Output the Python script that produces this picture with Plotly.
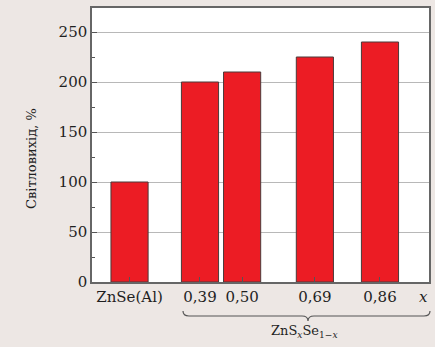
import plotly.graph_objects as go

# Data
ref_label = "ZnSe(Al)"
ref_value = 100
comp_x = [0.39, 0.50, 0.69, 0.86]
comp_labels = ["0,39", "0,50", "0,69", "0,86"]
comp_values = [200, 210, 225, 240]
y_ticks = [0, 50, 100, 150, 200, 250]

REF_POS = 0.206  # placement of the reference sample on the x axis

xs = [REF_POS] + comp_x
ys = [ref_value] + comp_values
tick_text = [ref_label] + comp_labels

serif = "DejaVu Serif"
txt_col = "#1f1f1f"
bg = "#ede7e4"

fig = go.Figure()
fig.add_trace(go.Bar(
    x=xs, y=ys, width=0.097,
    marker=dict(color="#ec1c24", line=dict(color="#4a3a3a", width=1)),
))

fig.update_layout(
    width=435, height=347,
    margin=dict(l=92, r=6, t=8, b=65, autoexpand=False),
    paper_bgcolor=bg,
    plot_bgcolor="#ffffff",
    showlegend=False,
    font=dict(family=serif, size=15, color=txt_col),
    xaxis=dict(
        range=[0.108, 0.988],
        tickvals=xs, ticktext=tick_text,
        ticks="inside", ticklen=5, tickcolor="#555",
        showgrid=False, zeroline=False, automargin=False,
        showline=True, linecolor="#666", linewidth=1.5, mirror=True,
        tickfont=dict(family=serif, size=15, color=txt_col),
    ),
    yaxis=dict(
        range=[0, 274],
        tickvals=y_ticks,
        ticks="inside", ticklen=5, tickcolor="#555",
        minor=dict(dtick=25, tick0=0, ticks="inside", ticklen=3, tickcolor="#555", showgrid=False),
        showgrid=True, gridcolor="#b8b8b8", gridwidth=1,
        zeroline=False, automargin=False,
        showline=True, linecolor="#666", linewidth=1.5, mirror=True,
        tickfont=dict(family=serif, size=15, color=txt_col),
    ),
)

def px(p):
    return (p - 92) / 337

def py(p):
    return (282 - p) / 274

# rotated y axis title
fig.add_annotation(xref="paper", yref="paper", x=px(31), y=py(159),
                   text="Світловихід, %", textangle=-90, showarrow=False,
                   font=dict(family=serif, size=13, color=txt_col),
                   xanchor="center", yanchor="middle")

# italic x axis label
fig.add_annotation(xref="paper", yref="paper", x=px(423), y=py(297),
                   text="<i>x</i>", showarrow=False, font=dict(family=serif, size=15, color=txt_col),
                   xanchor="center", yanchor="middle")

# curly brace under the ZnSxSe1-x compositions
x0, x1, xm = px(183), px(430), px(308)
y0, y1, y2 = py(311), py(316), py(321)
d = 6 / 337
path = (f"M {x0},{y0} Q {x0},{y1} {x0+d},{y1} L {xm-d},{y1} Q {xm},{y1} {xm},{y2} "
        f"Q {xm},{y1} {xm+d},{y1} L {x1-d},{y1} Q {x1},{y1} {x1},{y0}")
fig.add_shape(type="path", path=path, xref="paper", yref="paper",
              line=dict(color="#555", width=1.2))

fig.add_annotation(xref="paper", yref="paper", x=px(304), y=py(331),
                   text="ZnS<sub><i>x</i></sub>Se<sub>1−<i>x</i></sub>", showarrow=False,
                   font=dict(family=serif, size=13, color=txt_col),
                   xanchor="center", yanchor="middle")

fig.write_html(
    "out.html",
    config={"displayModeBar": False},
    post_script=f"document.body.style.margin='0';document.body.style.background='{bg}';",
)
